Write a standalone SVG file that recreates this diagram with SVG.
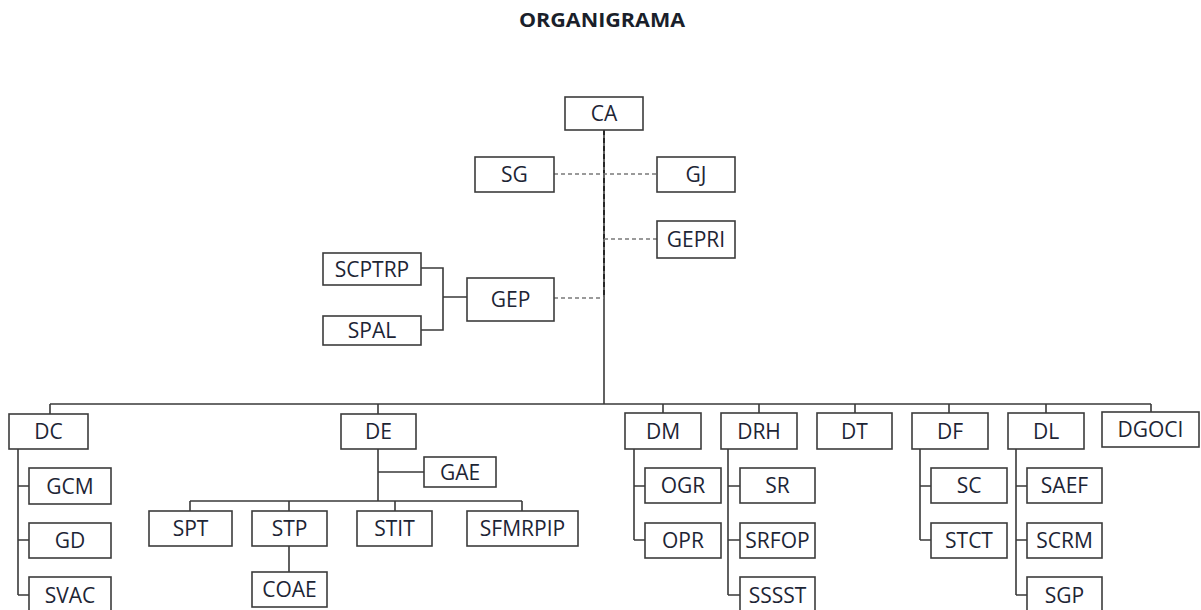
<svg xmlns="http://www.w3.org/2000/svg" width="1201" height="610" viewBox="0 0 1201 610">
<style>
.b rect{fill:#fff;stroke:#3c3c3c;stroke-width:1.6}
.b text{font-family:"Open Sans","Liberation Sans",sans-serif;font-size:21px;fill:#1d2535;text-anchor:middle}
.c path{fill:none;stroke:#3a3a3a;stroke-width:1.6}
.c .d{stroke:#7a7a7a;stroke-dasharray:4 3;stroke-width:1.4}
.c .dk{stroke:#222;stroke-dasharray:5 3;stroke-width:1.8}
.t{font-family:"Open Sans","Liberation Sans",sans-serif;font-size:20px;font-weight:bold;fill:#1a1f2b;text-anchor:middle}
</style>
<rect width="1201" height="610" fill="#fff"/>
<text class="t" x="602" y="27" textLength="166" lengthAdjust="spacingAndGlyphs">ORGANIGRAMA</text>
<g class="c" id="connectors">
<path d="M604 130V404"/>
<path class="dk" d="M604 130V298"/>
<path class="d" d="M554 174H657M604 239H657M554 298H604"/>
<path d="M421 268H443V330H421M443 297H467"/>
<path d="M50 404H1151M50 404V414M378 404V414M663 404V413M759 404V413M855 404V413M949 404V413M1046 404V413M1151 404V412"/>
<path d="M18 449V595M18 486H29M18 540H29M18 595H29"/>
<path d="M378 449V501M378 472H424M190 501H522M190 501V511M289 501V511M395 501V511M522 501V511M289 546V572"/>
<path d="M634 449V540M634 486H645M634 540H645"/>
<path d="M728 449V595M728 486H740M728 540H740M728 595H740"/>
<path d="M920 449V540M920 486H931M920 540H931"/>
<path d="M1016 449V595M1016 486H1027M1016 540H1027M1016 595H1027"/>
</g>
<g class="b" id="CA"><rect x="565" y="97" width="78" height="33"/><text x="604" y="121">CA</text></g>
<g class="b" id="SG"><rect x="475" y="157" width="79" height="35"/><text x="514.5" y="182">SG</text></g>
<g class="b" id="GJ"><rect x="657" y="157" width="78" height="35"/><text x="696" y="182">GJ</text></g>
<g class="b" id="GEPRI"><rect x="657" y="221" width="78" height="37"/><text x="696" y="247">GEPRI</text></g>
<g class="b" id="SCPTRP"><rect x="323" y="253" width="98" height="32"/><text x="372" y="276.5">SCPTRP</text></g>
<g class="b" id="SPAL"><rect x="323" y="316" width="98" height="29"/><text x="372" y="338">SPAL</text></g>
<g class="b" id="GEP"><rect x="467" y="278" width="87" height="43"/><text x="510.5" y="307">GEP</text></g>
<g class="b" id="DC"><rect x="9" y="414" width="79" height="35"/><text x="48.5" y="439">DC</text></g>
<g class="b" id="DE"><rect x="341" y="414" width="75" height="35"/><text x="378.5" y="439">DE</text></g>
<g class="b" id="DM"><rect x="625" y="413" width="76" height="36"/><text x="663" y="438.5">DM</text></g>
<g class="b" id="DRH"><rect x="721" y="413" width="76" height="36"/><text x="759" y="438.5">DRH</text></g>
<g class="b" id="DT"><rect x="817" y="413" width="75" height="36"/><text x="854.5" y="438.5">DT</text></g>
<g class="b" id="DF"><rect x="912" y="413" width="76" height="36"/><text x="950" y="438.5">DF</text></g>
<g class="b" id="DL"><rect x="1008" y="413" width="76" height="36"/><text x="1046" y="438.5">DL</text></g>
<g class="b" id="DGOCI"><rect x="1102" y="412" width="97" height="35"/><text x="1150.5" y="437">DGOCI</text></g>
<g class="b" id="GCM"><rect x="29" y="468" width="82" height="36"/><text x="70" y="493.5">GCM</text></g>
<g class="b" id="GD"><rect x="29" y="523" width="82" height="35"/><text x="70" y="548">GD</text></g>
<g class="b" id="SVAC"><rect x="29" y="577" width="82" height="36"/><text x="70" y="602.5">SVAC</text></g>
<g class="b" id="GAE"><rect x="424" y="457" width="72" height="30"/><text x="460" y="479.5">GAE</text></g>
<g class="b" id="SPT"><rect x="149" y="511" width="83" height="35"/><text x="190.5" y="536">SPT</text></g>
<g class="b" id="STP"><rect x="252" y="511" width="75" height="35"/><text x="289.5" y="536">STP</text></g>
<g class="b" id="STIT"><rect x="357" y="511" width="75" height="35"/><text x="394.5" y="536">STIT</text></g>
<g class="b" id="SFMRPIP"><rect x="467" y="511" width="111" height="35"/><text x="522.5" y="536">SFMRPIP</text></g>
<g class="b" id="COAE"><rect x="252" y="572" width="75" height="35"/><text x="289.5" y="597">COAE</text></g>
<g class="b" id="OGR"><rect x="645" y="468" width="76" height="35"/><text x="683" y="493">OGR</text></g>
<g class="b" id="OPR"><rect x="645" y="523" width="76" height="35"/><text x="683" y="548">OPR</text></g>
<g class="b" id="SR"><rect x="740" y="468" width="75" height="35"/><text x="777.5" y="493">SR</text></g>
<g class="b" id="SRFOP"><rect x="740" y="523" width="75" height="35"/><text x="777.5" y="548">SRFOP</text></g>
<g class="b" id="SSSST"><rect x="740" y="577" width="75" height="36"/><text x="777.5" y="602.5">SSSST</text></g>
<g class="b" id="SC"><rect x="931" y="468" width="76" height="35"/><text x="969" y="493">SC</text></g>
<g class="b" id="STCT"><rect x="931" y="523" width="76" height="35"/><text x="969" y="548">STCT</text></g>
<g class="b" id="SAEF"><rect x="1027" y="468" width="75" height="35"/><text x="1064.5" y="493">SAEF</text></g>
<g class="b" id="SCRM"><rect x="1027" y="523" width="75" height="35"/><text x="1064.5" y="548">SCRM</text></g>
<g class="b" id="SGP"><rect x="1027" y="577" width="75" height="36"/><text x="1064.5" y="602.5">SGP</text></g>
</svg>
